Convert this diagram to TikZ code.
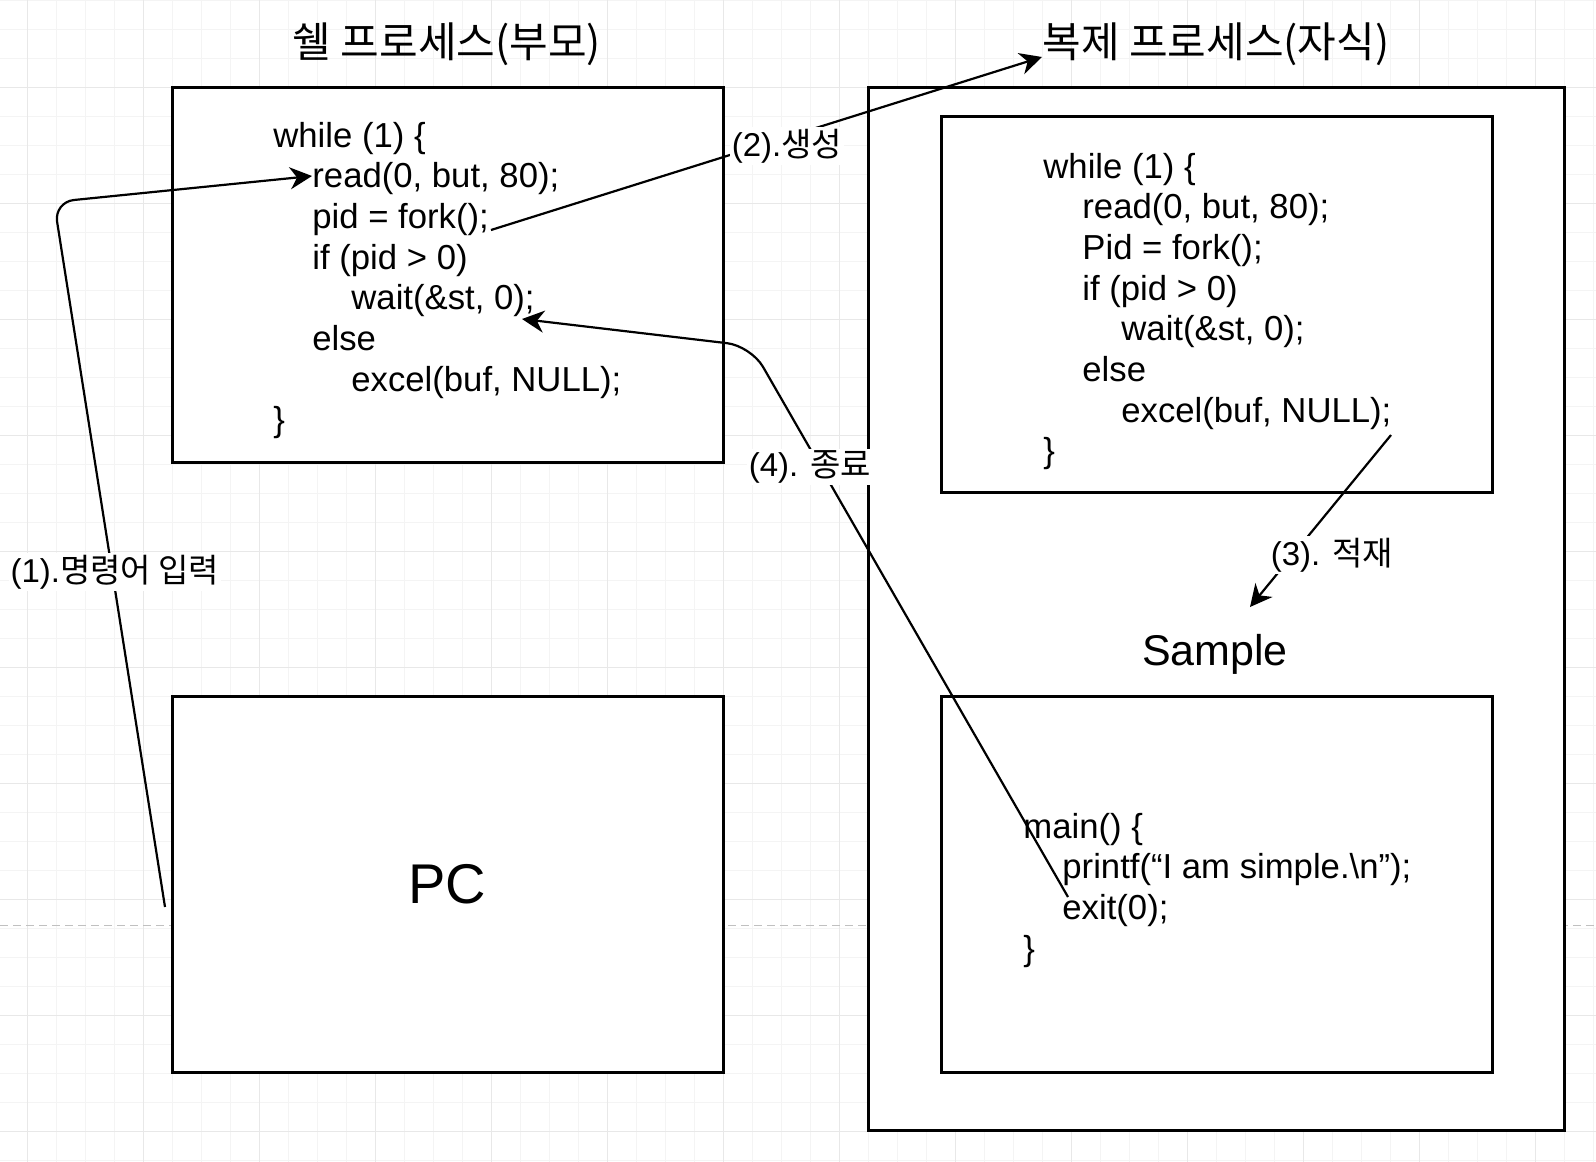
\documentclass[tikz,border=0pt]{standalone}
\usepackage{fontspec}
\setmainfont{Liberation Sans}
\newfontfamily\kr{Noto Sans CJK KR}
\usetikzlibrary{arrows.meta}
\definecolor{gminor}{HTML}{F4F4F4}
\definecolor{gmajor}{HTML}{E8E8E8}
\definecolor{pagebrk}{HTML}{C0C0C0}
\begin{document}
\begin{tikzpicture}[x=0.5pt,y=-0.5pt,
  box/.style={draw=black,line width=1.5pt,fill=white,inner sep=0pt},
  code/.style={anchor=base west,inner sep=0pt,font=\fontsize{17.35}{20}\selectfont},
  conn/.style={draw=black,line width=1.1pt},
  tip/.style={-{Stealth[length=11pt,width=11pt,inset=3.5pt]}},
  lbl/.style={fill=white,inner sep=1pt,font=\fontsize{16.5}{18}\selectfont},
  ttl/.style={inner sep=0pt,font=\kr\fontsize{21}{24}\selectfont},
]
\useasboundingbox (0,0) rectangle (1596,1162);
\fill[white] (0,0) rectangle (1596,1162);
% grid
\foreach \k in {0,...,54} { \draw[gminor,line width=0.5pt] ({27+29*\k},0) -- ({27+29*\k},1162); }
\foreach \k in {0,...,40} { \draw[gminor,line width=0.5pt] (0,{29*\k}) -- (1596,{29*\k}); }
\foreach \k in {0,...,13} { \draw[gmajor,line width=0.5pt] ({27+116*\k},0) -- ({27+116*\k},1162); }
\foreach \k in {0,...,9} { \draw[gmajor,line width=0.5pt] (0,{87+116*\k}) -- (1596,{87+116*\k}); }
\draw[pagebrk,line width=0.5pt,dash pattern=on 4pt off 2.5pt] (0,925) -- (1596,925);

% titles
\node[ttl] (ptitle) at (447,44) {쉘 프로세스(부모)};
\node[ttl] (ctitle) at (1216,44) {복제 프로세스(자식)};

% boxes
\node[box,minimum width=275.5pt,minimum height=187.5pt] (shell) at (447.5,274.5) {};
\node[box,minimum width=275.5pt,minimum height=188pt,font=\fontsize{28}{30}\selectfont] (pc) at (447.5,884) {PC};
\node[box,minimum width=348pt,minimum height=521.5pt] (child) at (1216,608.5) {};
\node[box,minimum width=275.5pt,minimum height=188pt] (ccode) at (1216.5,304) {};
\node[box,minimum width=275.5pt,minimum height=188pt] (sbox) at (1216.5,884) {};
\node[inner sep=0pt,font=\fontsize{21.5}{24}\selectfont] (stitle) at (1215,654) {Sample};

% parent code
\node[code] (l1) at (273,147) {while (1) \{};
\node[code] (l2) at (312,187.7) {read(0, but, 80);};
\node[code] (l3) at (312,228.4) {pid = fork();};
\node[code] (l4) at (312,269.1) {if (pid > 0)};
\node[code] (l5) at (351,309.8) {wait(\&st, 0);};
\node[code] (l6) at (312,350.5) {else};
\node[code] (l7) at (351,391.2) {excel(buf, NULL);};
\node[code] (l8) at (273,431.9) {\}};

% child code
\node[code] (r1) at (1043,178) {while (1) \{};
\node[code] (r2) at (1082,218.7) {read(0, but, 80);};
\node[code] (r3) at (1082,259.4) {Pid = fork();};
\node[code] (r4) at (1082,300.1) {if (pid > 0)};
\node[code] (r5) at (1121,340.8) {wait(\&st, 0);};
\node[code] (r6) at (1082,381.5) {else};
\node[code] (r7) at (1121,422.2) {excel(buf, NULL);};
\node[code] (r8) at (1043,462.9) {\}};

% sample code
\node[code] (s1) at (1023,838) {main() \{};
\node[code] (s2) at (1062,878.7) {printf(“I am simple.\textbackslash n”);};
\node[code] (s3) at (1062,919.4) {exit(0);};
\node[code] (s4) at (1023,960.1) {\}};

% connector endpoints
\coordinate (a1s) at (165,907);
\coordinate (a1c) at (54,202);
\coordinate (a1e) at (312,176);
\coordinate (a2s) at (491,230);
\coordinate (a2e) at (1042,57);
\coordinate (a3s) at (1391,435);
\coordinate (a3e) at (1250,607);
\coordinate (a4s) at (1068,897);
\coordinate (a4c) at (751,346);
\coordinate (a4e) at (522,319);

% connectors
\draw[conn,tip,rounded corners=10pt] (a1s) -- (a1c) -- (a1e);
\draw[conn,tip] (a2s) -- (a2e);
\draw[conn,tip] (a3s) -- (a3e);
\draw[conn,tip,rounded corners=12pt] (a4s) -- (a4c) -- (a4e);

% labels
\node[lbl] (t1) at (115,572) {(1).{\kr 명령어 입력}};
\node[lbl] (t2) at (787,146) {(2).{\kr 생성}};
\node[lbl] (t3) at (1332,555) {(3). {\kr 적재}};
\node[lbl] (t4) at (810,467) {(4). {\kr 종료}};
\end{tikzpicture}
\end{document}
